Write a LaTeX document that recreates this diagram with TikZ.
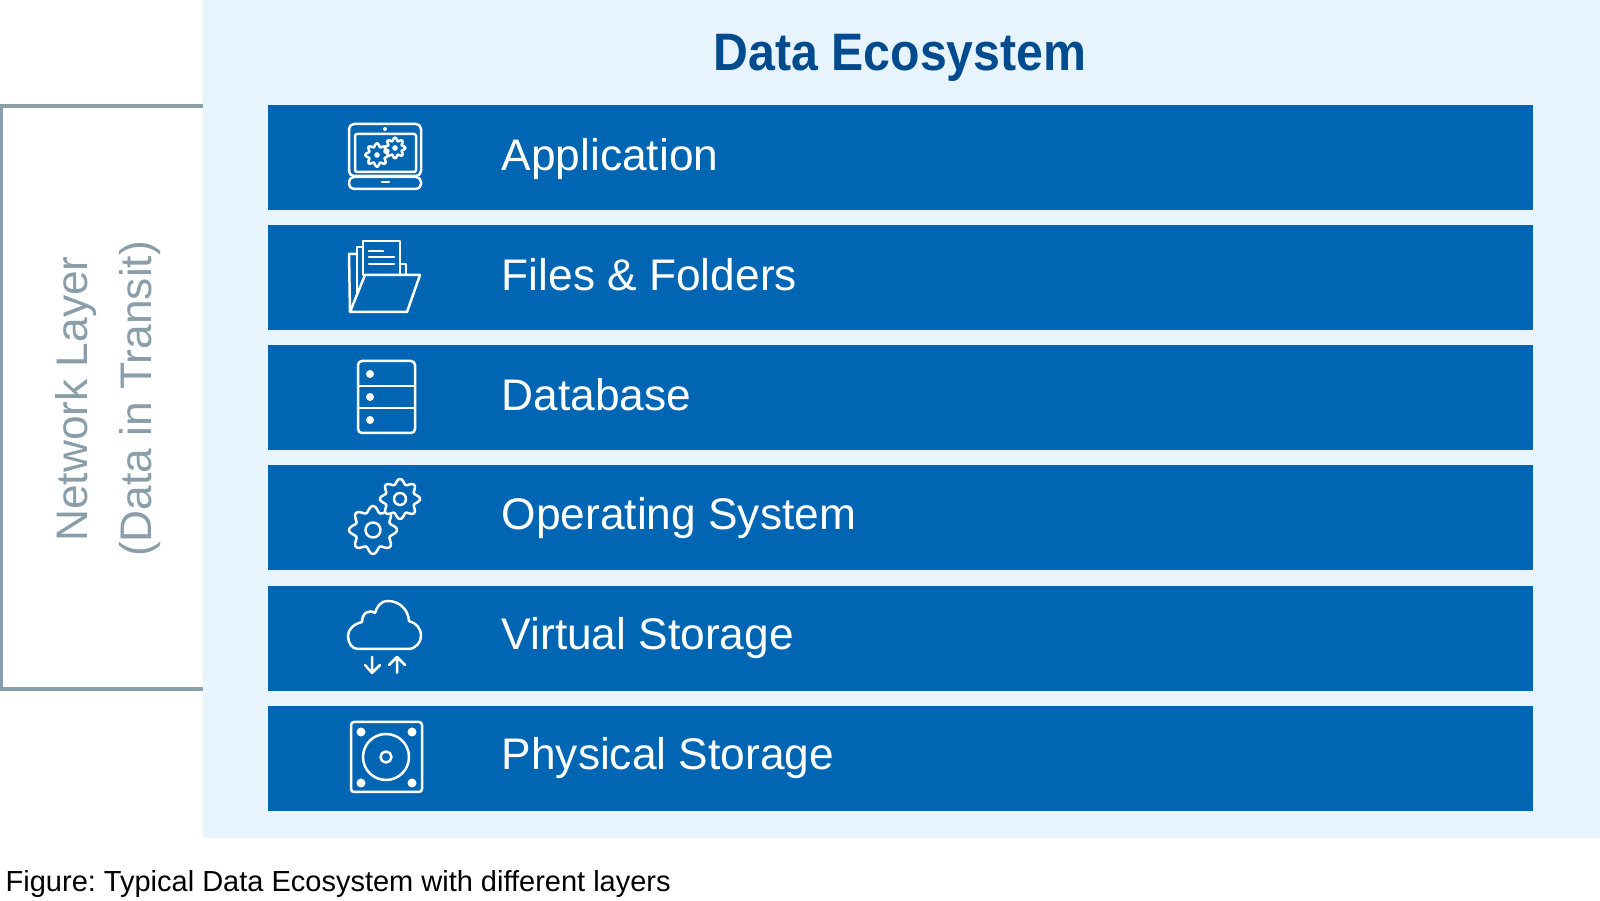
\documentclass[tikz,border=0pt]{standalone}
\usepackage{fontspec}
\setmainfont{Liberation Sans}
\newfontfamily\titlefont[FakeStretch=0.915]{Liberation Sans}
\frenchspacing
\definecolor{panelblue}{HTML}{E8F4FD}
\definecolor{barblue}{HTML}{0066B3}
\definecolor{titleblue}{HTML}{004B8D}
\definecolor{netgray}{HTML}{8A9EA9}
\tikzset{
  barbox/.style={fill=barblue,minimum width=1265*0.1mm,minimum height=105*0.1mm,inner sep=0pt,anchor=north west},
  barlabel/.style={anchor=base west,text=white,inner sep=0pt,font=\fontsize{12.6}{15}\selectfont},
  iconline/.style={draw=white,line width=0.25mm,line join=round,line cap=round},
  icondot/.style={fill=white},
}
% gear outline: centre x, centre y, radius, tooth depth
\newcommand{\gearpath}[4]{plot[variable=\t,domain=0:360,samples=129,smooth] ({#1+(#3+#4*cos(8*\t))*cos(\t)},{#2+(#3+#4*cos(8*\t))*sin(\t)}) -- cycle}
\begin{document}
\begin{tikzpicture}[x=0.1mm,y=-0.1mm]
  \useasboundingbox (0,0) rectangle (1600,901);
  \fill[panelblue] (203,0) rectangle (1600,838);
  \node[anchor=base,inner sep=0pt,text=titleblue,font=\fontsize{15}{18}\selectfont\titlefont\bfseries] (title) at (900,71) {Data Ecosystem};
  % network layer
  \draw[netgray,line width=0.33mm] (203,106) -- (1.5,106) -- (1.5,689) -- (203,689);
  \node[rotate=90,align=center,inner sep=0pt,text=netgray,font=\fontsize{12.6}{18.2}\selectfont] (network) at (108.5,399) {Network Layer\\(Data in Transit)};
  % bars
  \foreach[count=\i,evaluate={\y=104.2+120.2*(\i-1);\b=170.5+119.8*(\i-1);}] \v in {Application,Files \& Folders,Database,Operating System,Virtual Storage,Physical Storage} {
    \node[barbox] (bar\i) at (267,\y) {};
    \node[barlabel] (label\i) at (501,\b) {\v};
  }
  % laptop
  \draw[iconline,rounded corners=0.5mm] (349,176) rectangle (421,124);
  \draw[iconline,rounded corners=0.2mm] (355,134) rectangle (416,172);
  \draw[iconline,rounded corners=0.5mm] (349,177) rectangle (421,189);
  \draw[iconline] (382,182) -- (389,182);
  \fill[icondot] (385,129) circle (0.2mm);
  \draw[iconline] \gearpath{377}{155}{10}{1.7};
  \fill[icondot] (377,155) circle (0.28mm);
  \draw[iconline,fill=barblue] \gearpath{395}{148}{8.8}{1.5};
  \fill[icondot] (395,148) circle (0.28mm);
  % folder
  \draw[iconline] (350,312) -- (349,254) -- (357,254);
  \draw[iconline] (363,247) -- (357,247) -- (357,292);
  \draw[iconline] (365,275) -- (363,275) -- (363,241) -- (400,241) -- (400,275);
  \draw[iconline] (400,264) -- (406,264) -- (406,274);
  \draw[iconline] (369,251) -- (383,251) (369,257) -- (394,257) (369,264) -- (394,264);
  \draw[iconline] (365,275) -- (420,275) -- (407,312) -- (350,312) -- cycle;
  % database
  \draw[iconline,rounded corners=0.4mm] (358,361) rectangle (415,433);
  \draw[iconline] (358,386) -- (415,386) (358,408) -- (415,408);
  \foreach \y in {374,397,420} {
    \fill[icondot] (370,\y) circle (0.4mm);
  }
  % gears
  \draw[iconline] \gearpath{373}{530}{21}{3};
  \draw[iconline] (373,530) circle (0.75mm);
  \draw[iconline,fill=barblue] \gearpath{400}{499}{17.5}{2.5};
  \draw[iconline] (400,499) circle (0.6mm);
  % cloud
  \draw[iconline] (358,649) -- (408,649) .. controls (416,649) and (421,642) .. (421,636)
    .. controls (421,628) and (416,623) .. (409,621) .. controls (408,608) and (398,601) .. (388,601)
    .. controls (380,601) and (377,607) .. (375,613) .. controls (369,609) and (362,613) .. (362,622)
    .. controls (354,624) and (348,629) .. (348,636) .. controls (348,643) and (352,649) .. (358,649) -- cycle;
  \draw[iconline] (372,657) -- (372,673) (365,665) -- (372,673) -- (380,665);
  \draw[iconline] (397,673) -- (397,657) (389,665) -- (397,657) -- (405,665);
  % disk
  \draw[iconline,rounded corners=0.3mm] (351,722) rectangle (422,792);
  \draw[iconline] (386,757) circle (2.3mm);
  \draw[iconline] (386,757) circle (0.55mm);
  \foreach \x/\y in {361/732,412/732,361/783,412/783} {
    \fill[icondot] (\x,\y) circle (0.45mm);
  }
  \node[anchor=base west,inner sep=0pt,font=\fontsize{8.25}{10}\selectfont] (caption) at (5,892) {Figure: Typical Data Ecosystem with different layers};
\end{tikzpicture}
\end{document}
